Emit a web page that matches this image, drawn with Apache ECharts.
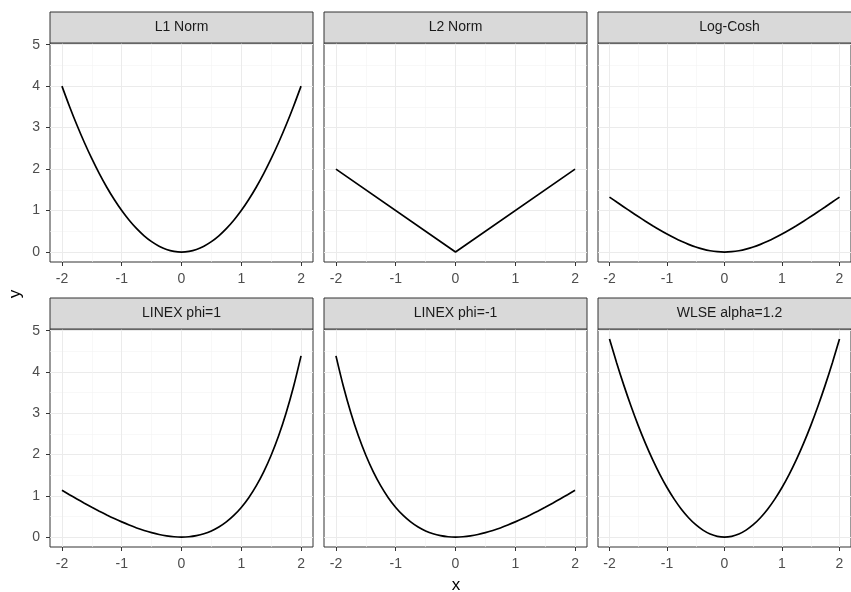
<!DOCTYPE html>
<html>
<head>
<meta charset="utf-8">
<script src="https://cdn.jsdelivr.net/npm/echarts@6/dist/echarts.min.js"></script>
<style>
  html, body { margin: 0; padding: 0; background: #fff; }
  #chart { width: 851px; height: 592px; }
</style>
</head>
<body>
<div id="chart"></div>
<script>
// Loss functions, each evaluated on the same x grid
const panelTitles = ['L1 Norm', 'L2 Norm', 'Log-Cosh', 'LINEX phi=1', 'LINEX phi=-1', 'WLSE alpha=1.2'];

const xs = [-2, -1.875, -1.75, -1.625, -1.5, -1.375, -1.25, -1.125, -1, -0.875, -0.75, -0.625, -0.5, -0.375, -0.25, -0.125,
            0, 0.125, 0.25, 0.375, 0.5, 0.625, 0.75, 0.875, 1, 1.125, 1.25, 1.375, 1.5, 1.625, 1.75, 1.875, 2];

const l1Norm = [4, 3.516, 3.063, 2.641, 2.25, 1.891, 1.563, 1.266, 1, 0.766, 0.563, 0.391, 0.25, 0.141, 0.063, 0.016,
                0, 0.016, 0.063, 0.141, 0.25, 0.391, 0.563, 0.766, 1, 1.266, 1.563, 1.891, 2.25, 2.641, 3.063, 3.516, 4];
const l2NormX = [-2, 0, 2];
const l2Norm = [2, 0, 2];
const logCosh = [1.325, 1.205, 1.087, 0.970, 0.855, 0.744, 0.636, 0.532, 0.434, 0.342, 0.258, 0.184, 0.120, 0.069, 0.031, 0.008,
                 0, 0.008, 0.031, 0.069, 0.120, 0.184, 0.258, 0.342, 0.434, 0.532, 0.636, 0.744, 0.855, 0.970, 1.087, 1.205, 1.325];
const linexPos = [1.135, 1.028, 0.924, 0.822, 0.723, 0.628, 0.537, 0.450, 0.368, 0.292, 0.222, 0.160, 0.107, 0.062, 0.029, 0.008,
                  0, 0.008, 0.034, 0.080, 0.149, 0.243, 0.367, 0.524, 0.718, 0.955, 1.240, 1.580, 1.982, 2.453, 3.005, 3.646, 4.389];
const linexNeg = [4.389, 3.646, 3.005, 2.453, 1.982, 1.580, 1.240, 0.955, 0.718, 0.524, 0.367, 0.243, 0.149, 0.080, 0.034, 0.008,
                  0, 0.008, 0.029, 0.062, 0.107, 0.160, 0.222, 0.292, 0.368, 0.450, 0.537, 0.628, 0.723, 0.822, 0.924, 1.028, 1.135];
const wlse = [4.8, 4.219, 3.675, 3.169, 2.7, 2.269, 1.875, 1.519, 1.2, 0.919, 0.675, 0.469, 0.3, 0.169, 0.075, 0.019,
              0, 0.019, 0.075, 0.169, 0.3, 0.469, 0.675, 0.919, 1.2, 1.519, 1.875, 2.269, 2.7, 3.169, 3.675, 4.219, 4.8];

const xTicks = [-2, -1, 0, 1, 2];
const yTicks = [0, 1, 2, 3, 4, 5];
const xMinor = [-1.5, -0.5, 0.5, 1.5];
const yMinor = [0.5, 1.5, 2.5, 3.5, 4.5];

const panelData = [
  [xs, l1Norm],
  [l2NormX, l2Norm],
  [xs, logCosh],
  [xs, linexPos],
  [xs, linexNeg],
  [xs, wlse]
];

// facet layout
const colLeft = [50, 324, 598];
const panelW = 263;
const rowTop = [43, 329];
const panelH = [219, 218];
const stripH = 31;

const X_MIN = -2.2, X_MAX = 2.2;
const Y_MIN = -0.24, Y_MAX = 5.04;
const FONT = 'Liberation Sans';

const grids = [], xAxes = [], yAxes = [], series = [], graphics = [];

panelTitles.forEach((title, i) => {
  const row = Math.floor(i / 3), col = i % 3;
  const left = colLeft[col], top = rowTop[row], h = panelH[row];
  grids.push({
    left: left, top: top, width: panelW, height: h,
    show: true, backgroundColor: '#fff', borderColor: '#333', borderWidth: 1
  });

  // major axes
  xAxes.push({
    type: 'value', gridIndex: i, min: X_MIN, max: X_MAX, position: 'bottom',
    axisLine: { show: false, onZero: false },
    axisTick: { show: true, length: 4, lineStyle: { color: '#333' }, customValues: xTicks },
    axisLabel: { show: true, customValues: xTicks, color: '#4d4d4d', fontSize: 14,
                 fontFamily: FONT, margin: 10 },
    splitLine: { show: true, lineStyle: { color: '#ebebeb', width: 1 } }
  });
  yAxes.push({
    type: 'value', gridIndex: i, min: Y_MIN, max: Y_MAX, position: 'left',
    axisLine: { show: false, onZero: false },
    axisTick: { show: col === 0, length: 4, lineStyle: { color: '#333' }, customValues: yTicks },
    axisLabel: { show: col === 0, customValues: yTicks, color: '#4d4d4d', fontSize: 14,
                 fontFamily: FONT, margin: 10 },
    splitLine: { show: true, lineStyle: { color: '#ebebeb', width: 1 } }
  });
  // minor grid lines
  xAxes.push({
    type: 'value', gridIndex: i, min: X_MIN, max: X_MAX, position: 'top',
    axisLine: { show: false, onZero: false }, axisLabel: { show: false },
    axisTick: { show: false, customValues: xMinor },
    splitLine: { show: true, lineStyle: { color: '#f3f3f3', width: 0.6 } }
  });
  yAxes.push({
    type: 'value', gridIndex: i, min: Y_MIN, max: Y_MAX, position: 'right',
    axisLine: { show: false, onZero: false }, axisLabel: { show: false },
    axisTick: { show: false, customValues: yMinor },
    splitLine: { show: true, lineStyle: { color: '#f3f3f3', width: 0.6 } }
  });

  const [px, py] = panelData[i];
  series.push({
    type: 'line',
    xAxisIndex: 2 * i, yAxisIndex: 2 * i,
    data: px.map((x, k) => [x, py[k]]),
    showSymbol: false,
    smooth: px.length > 3 ? 0.3 : false,
    lineStyle: { color: '#000', width: 1.7 },
    z: 5,
    animation: false
  });

  // facet strip
  graphics.push({
    type: 'rect',
    shape: { x: left, y: top - stripH, width: panelW, height: stripH },
    style: { fill: '#d9d9d9', stroke: '#333', lineWidth: 1 },
    z: 10
  });
  graphics.push({
    type: 'text',
    x: left + panelW / 2, y: top - stripH / 2,
    style: { text: title, fill: '#1a1a1a', fontSize: 14, fontFamily: FONT,
             align: 'center', verticalAlign: 'middle' },
    z: 11
  });
});

// axis titles
graphics.push({
  type: 'text', x: 456, y: 585,
  style: { text: 'x', fill: '#000', fontSize: 17, fontFamily: FONT,
           align: 'center', verticalAlign: 'middle' },
  z: 11
});
graphics.push({
  type: 'text', x: 15, y: 294, rotation: Math.PI / 2,
  style: { text: 'y', fill: '#000', fontSize: 17, fontFamily: FONT,
           align: 'center', verticalAlign: 'middle' },
  z: 11
});

const chart = echarts.init(document.getElementById('chart'), null, { renderer: 'canvas' });
chart.setOption({
  animation: false,
  backgroundColor: '#fff',
  grid: grids,
  xAxis: xAxes,
  yAxis: yAxes,
  series: series,
  graphic: graphics
});
</script>
</body>
</html>
